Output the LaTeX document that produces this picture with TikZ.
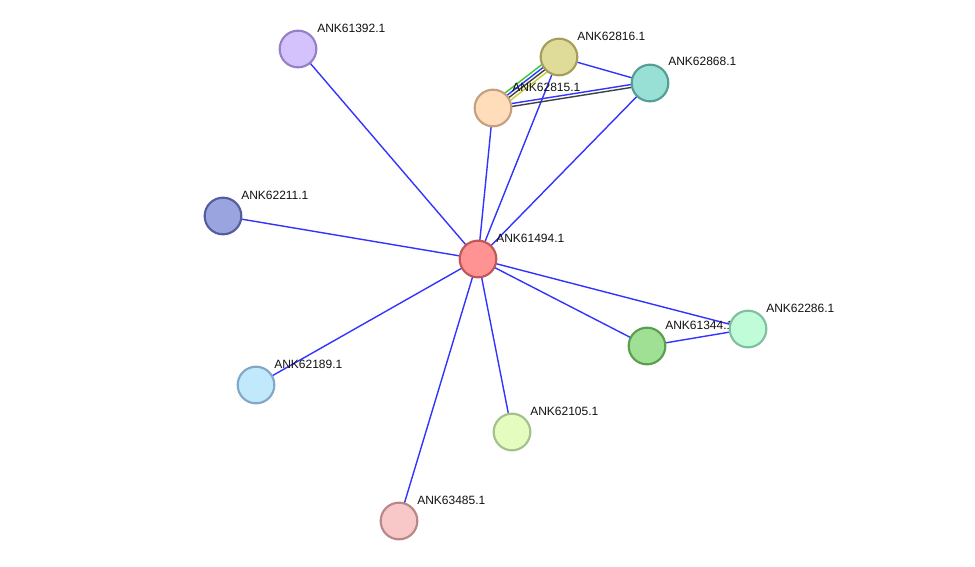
\documentclass[tikz,border=0pt]{standalone}
\usepackage{fontspec}
\setmainfont{Liberation Sans}
\usepackage{xcolor}
\definecolor{edgeblue}{HTML}{3333FF}
\definecolor{edgedark}{HTML}{404040}
\definecolor{edgegreen}{HTML}{33CC33}
\definecolor{edgeyellow}{HTML}{C8D030}
\definecolor{textmain}{HTML}{111111}
\usetikzlibrary{positioning, calc}
\pgfdeclarelayer{edges}
\pgfdeclarelayer{labels}
\pgfsetlayers{edges,labels,main}

\begin{document}
\begin{tikzpicture}[
        x=0.75pt, y=-0.75pt,
        font=\fontsize{9pt}{10pt}\selectfont,
        protein/.style={
            circle,
            line width=1.6pt,
            minimum size=27.5pt,
            inner sep=0pt
        },
        plabel/.style={
            anchor=west,
            inner sep=0pt,
            text=textmain
        },
        link/.style={
            draw=edgeblue,
            line width=1.05pt
        }
    ]
    \useasboundingbox (0,0) rectangle (975,567);

    % Protein nodes
    \node[protein, fill={rgb,255:red,212;green,194;blue,252}, draw={rgb,255:red,150;green,128;blue,200}] (p61392) at (298,49) {};
    \node[protein, fill={rgb,255:red,222;green,220;blue,152}, draw={rgb,255:red,166;green,158;blue,92}] (p62816) at (559,57) {};
    \node[protein, fill={rgb,255:red,152;green,224;blue,214}, draw={rgb,255:red,84;green,158;blue,150}] (p62868) at (650,83) {};
    \node[protein, fill={rgb,255:red,255;green,221;blue,187}, draw={rgb,255:red,196;green,160;blue,128}] (p62815) at (493,108) {};
    \node[protein, fill={rgb,255:red,154;green,165;blue,224}, draw={rgb,255:red,84;green,94;blue,158}] (p62211) at (223,216) {};
    \node[protein, fill={rgb,255:red,255;green,146;blue,146}, draw={rgb,255:red,192;green,88;blue,88}] (p61494) at (478,259) {};
    \node[protein, fill={rgb,255:red,192;green,252;blue,216}, draw={rgb,255:red,128;green,192;blue,160}] (p62286) at (748,329) {};
    \node[protein, fill={rgb,255:red,160;green,224;blue,148}, draw={rgb,255:red,90;green,158;blue,80}] (p61344) at (647,346) {};
    \node[protein, fill={rgb,255:red,194;green,232;blue,252}, draw={rgb,255:red,128;green,168;blue,200}] (p62189) at (256,385) {};
    \node[protein, fill={rgb,255:red,228;green,252;blue,192}, draw={rgb,255:red,168;green,192;blue,136}] (p62105) at (512,432) {};
    \node[protein, fill={rgb,255:red,248;green,200;blue,200}, draw={rgb,255:red,184;green,136;blue,136}] (p63485) at (399,521) {};

    % Labels
    \begin{pgfonlayer}{labels}
    \node[plabel] (l61392) at ($(p61392.center)+(19,-21)$) {ANK61392.1};
    \node[plabel] (l62816) at ($(p62816.center)+(18,-21)$) {ANK62816.1};
    \node[plabel] (l62868) at ($(p62868.center)+(18,-22)$) {ANK62868.1};
    \node[plabel] (l62815) at ($(p62815.center)+(19,-21)$) {ANK62815.1};
    \node[plabel] (l62211) at ($(p62211.center)+(18,-21)$) {ANK62211.1};
    \node[plabel] (l61494) at ($(p61494.center)+(18,-21)$) {ANK61494.1};
    \node[plabel] (l62286) at ($(p62286.center)+(18,-21)$) {ANK62286.1};
    \node[plabel] (l61344) at ($(p61344.center)+(18,-21)$) {ANK61344.1};
    \node[plabel] (l62189) at ($(p62189.center)+(18,-21)$) {ANK62189.1};
    \node[plabel] (l62105) at ($(p62105.center)+(18,-21)$) {ANK62105.1};
    \node[plabel] (l63485) at ($(p63485.center)+(18,-21)$) {ANK63485.1};
    \end{pgfonlayer}

    % Interactions
    \begin{pgfonlayer}{edges}
    \draw[link] (p61494.center) -- (p61392.center);
    \draw[link] (p61494.center) -- (p62815.center);
    \draw[link] (p61494.center) -- (p62816.center);
    \draw[link] (p61494.center) -- (p62868.center);
    \draw[link] (p61494.center) -- (p62211.center);
    \draw[link] (p61494.center) -- (p62286.center);
    \draw[link] (p61494.center) -- (p61344.center);
    \draw[link] (p61494.center) -- (p62189.center);
    \draw[link] (p61494.center) -- (p62105.center);
    \draw[link] (p61494.center) -- (p63485.center);
    \draw[link] (p62816.center) -- (p62868.center);
    \draw[link] (p61344.center) -- (p62286.center);

    % multiple evidence channels
    \draw[link, draw=edgegreen] ($(p62815.center)!3.4pt!90:(p62816.center)$) -- ($(p62816.center)!3.4pt!-90:(p62815.center)$);
    \draw[link] ($(p62815.center)!1.1pt!90:(p62816.center)$) -- ($(p62816.center)!1.1pt!-90:(p62815.center)$);
    \draw[link, draw=edgedark] ($(p62815.center)!-1.1pt!90:(p62816.center)$) -- ($(p62816.center)!-1.1pt!-90:(p62815.center)$);
    \draw[link, draw=edgeyellow] ($(p62815.center)!-3.4pt!90:(p62816.center)$) -- ($(p62816.center)!-3.4pt!-90:(p62815.center)$);
    \draw[link] ($(p62815.center)!1.1pt!90:(p62868.center)$) -- ($(p62868.center)!1.1pt!-90:(p62815.center)$);
    \draw[link, draw=edgedark] ($(p62815.center)!-1.1pt!90:(p62868.center)$) -- ($(p62868.center)!-1.1pt!-90:(p62815.center)$);
    \end{pgfonlayer}

\end{tikzpicture}
\end{document}
